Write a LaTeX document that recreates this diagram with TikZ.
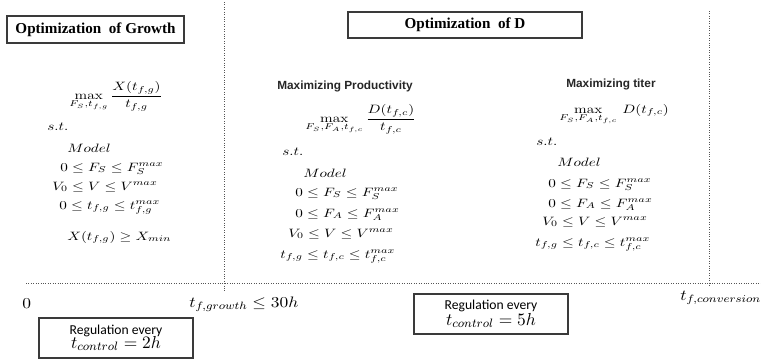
\RequirePackage{fix-cm}
\documentclass[tikz,border=0pt]{standalone}
\usepackage{fontspec}
\newfontfamily\headfont{Liberation Serif}
\newfontfamily\subfont{Liberation Sans}
\newfontfamily\regfont{Carlito}
\definecolor{boxc}{HTML}{3A3A3A}
\definecolor{dotc}{HTML}{555555}
\newcommand\sq[1]{\scalebox{1}[0.8]{#1}}
\newcommand\sqb[1]{\scalebox{1}[0.87]{#1}}
\begin{document}
\begin{tikzpicture}[x=0.66pt,y=-0.66pt,
  ml/.style={anchor=base west, inner sep=0pt},
  hd/.style={draw=boxc, line width=1pt, inner sep=0pt, font=\headfont\bfseries\fontsize{10}{12}\selectfont},
  subt/.style={anchor=base west, inner sep=0pt, text=black!85, font=\subfont\bfseries\fontsize{7.8}{9}\selectfont},
  big/.style={anchor=base west, inner sep=0pt, font=\fontsize{11.5}{14}\selectfont},
  regbox/.style={draw=boxc, line width=1pt, inner sep=0pt},
  regtxt/.style={anchor=base, inner sep=0pt, font=\regfont\fontsize{9}{11}\selectfont},
  dl/.style={draw=dotc, densely dotted, line width=0.6pt}]
\useasboundingbox (0,0) rectangle (761,362);

% dotted axes
\coordinate (v1t) at (224,2);   \coordinate (v1b) at (224,291);
\coordinate (v2t) at (709,11);  \coordinate (v2b) at (709,285);
\coordinate (h1) at (26,283);   \coordinate (h2) at (761,283);
\draw[dl] (v1t) -- (v1b);
\draw[dl] (v2t) -- (v2b);
\draw[dl] (h1) -- (h2);

% headings
\node[hd, minimum width=177*0.66pt, minimum height=27*0.66pt] (hg) at (95.5,29.5) {Optimization\ \ of Growth};
\node[hd, minimum width=234*0.66pt, minimum height=26*0.66pt] (hdd) at (465,25) {Optimization\ \ of D};

% left block
\node[ml] (l0) at (69,99) {\sq{$\displaystyle\max_{F_S,t_{f,g}}\frac{X(t_{f,g})}{t_{f,g}}$}};
\node[ml] (l1) at (47,130) {\sq{$s.t.$}};
\node[ml] (l2) at (67,152) {\sq{$Model$}};
\node[ml] (l3) at (60,171) {\sq{$0\leq F_S\leq F_S^{max}$}};
\node[ml] (l4) at (52,190) {\sq{$V_0\leq V\leq V^{max}$}};
\node[ml] (l5) at (59,209) {\sq{$0\leq t_{f,g}\leq t_{f,g}^{max}$}};
\node[ml] (l6) at (67,240) {\sq{$X(t_{f,g})\geq X_{min}$}};

% middle block
\node[subt] (mt) at (277,89) {Maximizing Productivity};
\node[ml] (m0) at (305,122) {\sq{$\displaystyle\max_{F_S,F_A,t_{f,c}}\frac{D(t_{f,c})}{t_{f,c}}$}};
\node[ml] (m1) at (282,155) {\sq{$s.t.$}};
\node[ml] (m2) at (303,177) {\sq{$Model$}};
\node[ml] (m3) at (295,196) {\sq{$0\leq F_S\leq F_S^{max}$}};
\node[ml] (m4) at (295,217) {\sq{$0\leq F_A\leq F_A^{max}$}};
\node[ml] (m5) at (288,237) {\sq{$V_0\leq V\leq V^{max}$}};
\node[ml] (m6) at (280,258) {\sq{$t_{f,g}\leq t_{f,c}\leq t_{f,c}^{max}$}};

% right block
\node[subt] (rt) at (566,87) {Maximizing titer};
\node[ml] (r0) at (559,113) {\sq{$\displaystyle\max_{F_S,F_A,t_{f,c}}\,D(t_{f,c})$}};
\node[ml] (r1) at (536,145) {\sq{$s.t.$}};
\node[ml] (r2) at (557,166) {\sq{$Model$}};
\node[ml] (r3) at (548,187) {\sq{$0\leq F_S\leq F_S^{max}$}};
\node[ml] (r4) at (548,207) {\sq{$0\leq F_A\leq F_A^{max}$}};
\node[ml] (r5) at (542,225) {\sq{$V_0\leq V\leq V^{max}$}};
\node[ml] (r6) at (535,246) {\sq{$t_{f,g}\leq t_{f,c}\leq t_{f,c}^{max}$}};

% time axis labels
\node[big] (t0) at (22,308) {\sqb{$0$}};
\node[big] (tg) at (189,307) {\sqb{$t_{f,growth}\leq 30h$}};
\node[big] (tc) at (680,300) {\sqb{$t_{f,conversion}$}};

% regulation boxes
\node[regbox, minimum width=154*0.66pt, minimum height=40*0.66pt] (rb1) at (116,338) {};
\node[regtxt] (rb1a) at (116,334) {Regulation every};
\node[big, anchor=base] (rb1b) at (116,348) {$t_{control}=2h$};
\node[regbox, minimum width=154*0.66pt, minimum height=40*0.66pt] (rb2) at (491,314) {};
\node[regtxt] (rb2a) at (491,309) {Regulation every};
\node[big, anchor=base] (rb2b) at (491,325) {$t_{control}=5h$};
\end{tikzpicture}
\end{document}
